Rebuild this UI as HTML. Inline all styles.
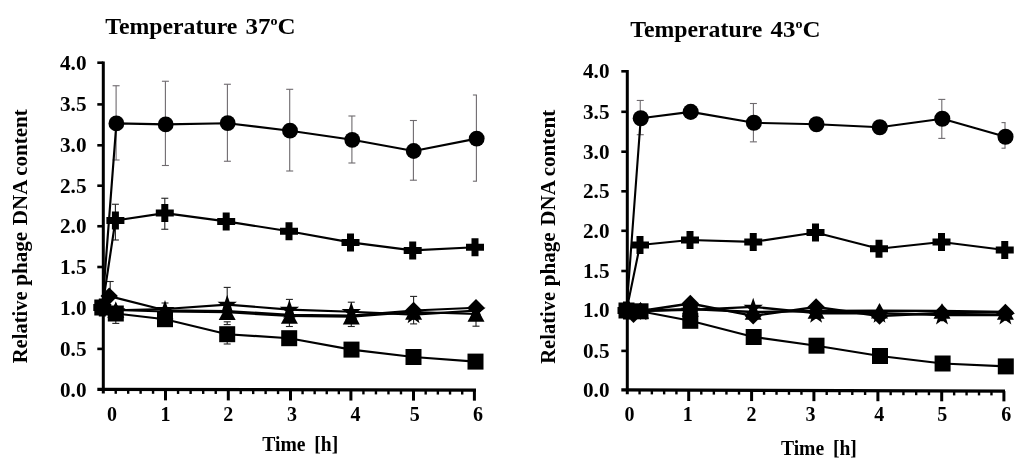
<!DOCTYPE html>
<html><head><meta charset="utf-8"><title>Relative phage DNA content</title>
<style>html,body{margin:0;padding:0;background:#fff}svg{display:block}</style></head>
<body>
<svg width="1024" height="467" viewBox="0 0 1024 467" font-family="'Liberation Serif', 'DejaVu Serif', serif" font-weight="bold" fill="#000">
<rect width="1024" height="467" fill="#fff"/>
<line x1="103.30" y1="61.40" x2="103.30" y2="393.60" stroke="#000" stroke-width="3" stroke-linecap="butt"/>
<line x1="97.30" y1="389.30" x2="476.00" y2="390.20" stroke="#000" stroke-width="3.2" stroke-linecap="butt"/>
<text x="86.50" y="396.70" font-size="20" text-anchor="end" textLength="26.5" lengthAdjust="spacingAndGlyphs" >0.0</text>
<line x1="97.30" y1="348.90" x2="103.30" y2="348.90" stroke="#000" stroke-width="2.6" stroke-linecap="butt"/>
<text x="86.50" y="355.80" font-size="20" text-anchor="end" textLength="26.5" lengthAdjust="spacingAndGlyphs" >0.5</text>
<line x1="97.30" y1="307.60" x2="103.30" y2="307.60" stroke="#000" stroke-width="2.6" stroke-linecap="butt"/>
<text x="86.50" y="314.50" font-size="20" text-anchor="end" textLength="26.5" lengthAdjust="spacingAndGlyphs" >1.0</text>
<line x1="97.30" y1="267.00" x2="103.30" y2="267.00" stroke="#000" stroke-width="2.6" stroke-linecap="butt"/>
<text x="86.50" y="273.90" font-size="20" text-anchor="end" textLength="26.5" lengthAdjust="spacingAndGlyphs" >1.5</text>
<line x1="97.30" y1="226.25" x2="103.30" y2="226.25" stroke="#000" stroke-width="2.6" stroke-linecap="butt"/>
<text x="86.50" y="233.15" font-size="20" text-anchor="end" textLength="26.5" lengthAdjust="spacingAndGlyphs" >2.0</text>
<line x1="97.30" y1="185.70" x2="103.30" y2="185.70" stroke="#000" stroke-width="2.6" stroke-linecap="butt"/>
<text x="86.50" y="192.60" font-size="20" text-anchor="end" textLength="26.5" lengthAdjust="spacingAndGlyphs" >2.5</text>
<line x1="97.30" y1="145.30" x2="103.30" y2="145.30" stroke="#000" stroke-width="2.6" stroke-linecap="butt"/>
<text x="86.50" y="152.20" font-size="20" text-anchor="end" textLength="26.5" lengthAdjust="spacingAndGlyphs" >3.0</text>
<line x1="97.30" y1="104.40" x2="103.30" y2="104.40" stroke="#000" stroke-width="2.6" stroke-linecap="butt"/>
<text x="86.50" y="111.30" font-size="20" text-anchor="end" textLength="26.5" lengthAdjust="spacingAndGlyphs" >3.5</text>
<line x1="97.30" y1="62.70" x2="103.30" y2="62.70" stroke="#000" stroke-width="2.6" stroke-linecap="butt"/>
<text x="86.50" y="69.60" font-size="20" text-anchor="end" textLength="26.5" lengthAdjust="spacingAndGlyphs" >4.0</text>
<line x1="115.74" y1="389.30" x2="115.74" y2="393.80" stroke="#000" stroke-width="2.4" stroke-linecap="butt"/>
<line x1="128.18" y1="389.30" x2="128.18" y2="393.80" stroke="#000" stroke-width="2.4" stroke-linecap="butt"/>
<line x1="140.62" y1="389.30" x2="140.62" y2="393.80" stroke="#000" stroke-width="2.4" stroke-linecap="butt"/>
<line x1="153.06" y1="389.30" x2="153.06" y2="393.80" stroke="#000" stroke-width="2.4" stroke-linecap="butt"/>
<line x1="165.50" y1="389.45" x2="165.50" y2="400.36" stroke="#000" stroke-width="3" stroke-linecap="butt"/>
<line x1="178.06" y1="389.45" x2="178.06" y2="393.95" stroke="#000" stroke-width="2.4" stroke-linecap="butt"/>
<line x1="190.62" y1="389.45" x2="190.62" y2="393.95" stroke="#000" stroke-width="2.4" stroke-linecap="butt"/>
<line x1="203.18" y1="389.45" x2="203.18" y2="393.95" stroke="#000" stroke-width="2.4" stroke-linecap="butt"/>
<line x1="215.74" y1="389.45" x2="215.74" y2="393.95" stroke="#000" stroke-width="2.4" stroke-linecap="butt"/>
<line x1="228.30" y1="389.60" x2="228.30" y2="400.42" stroke="#000" stroke-width="3" stroke-linecap="butt"/>
<line x1="240.74" y1="389.60" x2="240.74" y2="394.10" stroke="#000" stroke-width="2.4" stroke-linecap="butt"/>
<line x1="253.18" y1="389.60" x2="253.18" y2="394.10" stroke="#000" stroke-width="2.4" stroke-linecap="butt"/>
<line x1="265.62" y1="389.60" x2="265.62" y2="394.10" stroke="#000" stroke-width="2.4" stroke-linecap="butt"/>
<line x1="278.06" y1="389.60" x2="278.06" y2="394.10" stroke="#000" stroke-width="2.4" stroke-linecap="butt"/>
<line x1="290.50" y1="389.75" x2="290.50" y2="400.48" stroke="#000" stroke-width="3" stroke-linecap="butt"/>
<line x1="302.58" y1="389.75" x2="302.58" y2="394.25" stroke="#000" stroke-width="2.4" stroke-linecap="butt"/>
<line x1="314.66" y1="389.75" x2="314.66" y2="394.25" stroke="#000" stroke-width="2.4" stroke-linecap="butt"/>
<line x1="326.74" y1="389.75" x2="326.74" y2="394.25" stroke="#000" stroke-width="2.4" stroke-linecap="butt"/>
<line x1="338.82" y1="389.75" x2="338.82" y2="394.25" stroke="#000" stroke-width="2.4" stroke-linecap="butt"/>
<line x1="350.90" y1="389.90" x2="350.90" y2="400.54" stroke="#000" stroke-width="3" stroke-linecap="butt"/>
<line x1="363.42" y1="389.90" x2="363.42" y2="394.40" stroke="#000" stroke-width="2.4" stroke-linecap="butt"/>
<line x1="375.94" y1="389.90" x2="375.94" y2="394.40" stroke="#000" stroke-width="2.4" stroke-linecap="butt"/>
<line x1="388.46" y1="389.90" x2="388.46" y2="394.40" stroke="#000" stroke-width="2.4" stroke-linecap="butt"/>
<line x1="400.98" y1="389.90" x2="400.98" y2="394.40" stroke="#000" stroke-width="2.4" stroke-linecap="butt"/>
<line x1="413.50" y1="390.05" x2="413.50" y2="400.60" stroke="#000" stroke-width="3" stroke-linecap="butt"/>
<line x1="425.68" y1="390.05" x2="425.68" y2="394.55" stroke="#000" stroke-width="2.4" stroke-linecap="butt"/>
<line x1="437.86" y1="390.05" x2="437.86" y2="394.55" stroke="#000" stroke-width="2.4" stroke-linecap="butt"/>
<line x1="450.04" y1="390.05" x2="450.04" y2="394.55" stroke="#000" stroke-width="2.4" stroke-linecap="butt"/>
<line x1="462.22" y1="390.05" x2="462.22" y2="394.55" stroke="#000" stroke-width="2.4" stroke-linecap="butt"/>
<line x1="474.40" y1="390.20" x2="474.40" y2="400.66" stroke="#000" stroke-width="3" stroke-linecap="butt"/>
<text x="112.00" y="421.00" font-size="20" text-anchor="middle" >0</text>
<text x="165.50" y="421.00" font-size="20" text-anchor="middle" >1</text>
<text x="228.30" y="421.00" font-size="20" text-anchor="middle" >2</text>
<text x="292.10" y="421.00" font-size="20" text-anchor="middle" >3</text>
<text x="355.60" y="421.00" font-size="20" text-anchor="middle" >4</text>
<text x="414.70" y="421.00" font-size="20" text-anchor="middle" >5</text>
<text x="478.00" y="421.00" font-size="20" text-anchor="middle" >6</text>
<text transform="translate(27.4,363.20) rotate(-90)" font-size="21" textLength="71.8" lengthAdjust="spacingAndGlyphs">Relative</text>
<text transform="translate(27.4,285.80) rotate(-90)" font-size="21" textLength="54" lengthAdjust="spacingAndGlyphs">phage</text>
<text transform="translate(27.4,225.20) rotate(-90)" font-size="21" textLength="45.5" lengthAdjust="spacingAndGlyphs">DNA</text>
<text transform="translate(27.4,175.80) rotate(-90)" font-size="21" textLength="66.6" lengthAdjust="spacingAndGlyphs">content</text>
<text x="105.30" y="33.80" font-size="24" textLength="132.0" lengthAdjust="spacingAndGlyphs">Temperature</text>
<text x="245.60" y="33.80" font-size="24" textLength="50.0" lengthAdjust="spacingAndGlyphs">37<tspan font-size="13.5" dy="-9.3">o</tspan><tspan dy="9.3">C</tspan></text>
<text x="262.30" y="451.00" font-size="20.5" text-anchor="start" textLength="43.3" lengthAdjust="spacingAndGlyphs" >Time</text>
<text x="314.30" y="451.00" font-size="20.5" text-anchor="start" textLength="23.9" lengthAdjust="spacingAndGlyphs" >[h]</text>
<line x1="116.10" y1="85.75" x2="116.10" y2="160.00" stroke="#6e6a6e" stroke-width="1.1" stroke-linecap="butt"/>
<line x1="112.60" y1="85.75" x2="119.60" y2="85.75" stroke="#6e6a6e" stroke-width="1.1" stroke-linecap="butt"/>
<line x1="112.60" y1="160.00" x2="119.60" y2="160.00" stroke="#6e6a6e" stroke-width="1.1" stroke-linecap="butt"/>
<line x1="165.40" y1="81.25" x2="165.40" y2="165.50" stroke="#6e6a6e" stroke-width="1.1" stroke-linecap="butt"/>
<line x1="161.90" y1="81.25" x2="168.90" y2="81.25" stroke="#6e6a6e" stroke-width="1.1" stroke-linecap="butt"/>
<line x1="161.90" y1="165.50" x2="168.90" y2="165.50" stroke="#6e6a6e" stroke-width="1.1" stroke-linecap="butt"/>
<line x1="227.40" y1="84.25" x2="227.40" y2="161.25" stroke="#6e6a6e" stroke-width="1.1" stroke-linecap="butt"/>
<line x1="223.90" y1="84.25" x2="230.90" y2="84.25" stroke="#6e6a6e" stroke-width="1.1" stroke-linecap="butt"/>
<line x1="223.90" y1="161.25" x2="230.90" y2="161.25" stroke="#6e6a6e" stroke-width="1.1" stroke-linecap="butt"/>
<line x1="289.70" y1="89.30" x2="289.70" y2="171.00" stroke="#6e6a6e" stroke-width="1.1" stroke-linecap="butt"/>
<line x1="286.20" y1="89.30" x2="293.20" y2="89.30" stroke="#6e6a6e" stroke-width="1.1" stroke-linecap="butt"/>
<line x1="286.20" y1="171.00" x2="293.20" y2="171.00" stroke="#6e6a6e" stroke-width="1.1" stroke-linecap="butt"/>
<line x1="351.90" y1="116.00" x2="351.90" y2="163.00" stroke="#6e6a6e" stroke-width="1.1" stroke-linecap="butt"/>
<line x1="348.40" y1="116.00" x2="355.40" y2="116.00" stroke="#6e6a6e" stroke-width="1.1" stroke-linecap="butt"/>
<line x1="348.40" y1="163.00" x2="355.40" y2="163.00" stroke="#6e6a6e" stroke-width="1.1" stroke-linecap="butt"/>
<line x1="413.40" y1="120.50" x2="413.40" y2="180.20" stroke="#6e6a6e" stroke-width="1.1" stroke-linecap="butt"/>
<line x1="409.90" y1="120.50" x2="416.90" y2="120.50" stroke="#6e6a6e" stroke-width="1.1" stroke-linecap="butt"/>
<line x1="409.90" y1="180.20" x2="416.90" y2="180.20" stroke="#6e6a6e" stroke-width="1.1" stroke-linecap="butt"/>
<line x1="476.40" y1="95.00" x2="476.40" y2="181.20" stroke="#6e6a6e" stroke-width="1.1" stroke-linecap="butt"/>
<line x1="472.90" y1="95.00" x2="476.90" y2="95.00" stroke="#6e6a6e" stroke-width="1.1" stroke-linecap="butt"/>
<line x1="472.90" y1="181.20" x2="476.90" y2="181.20" stroke="#6e6a6e" stroke-width="1.1" stroke-linecap="butt"/>
<line x1="115.40" y1="204.25" x2="115.40" y2="240.00" stroke="#222" stroke-width="1.1" stroke-linecap="butt"/>
<line x1="111.90" y1="204.25" x2="118.90" y2="204.25" stroke="#222" stroke-width="1.1" stroke-linecap="butt"/>
<line x1="111.90" y1="240.00" x2="118.90" y2="240.00" stroke="#222" stroke-width="1.1" stroke-linecap="butt"/>
<line x1="164.80" y1="198.25" x2="164.80" y2="229.25" stroke="#222" stroke-width="1.1" stroke-linecap="butt"/>
<line x1="161.30" y1="198.25" x2="168.30" y2="198.25" stroke="#222" stroke-width="1.1" stroke-linecap="butt"/>
<line x1="161.30" y1="229.25" x2="168.30" y2="229.25" stroke="#222" stroke-width="1.1" stroke-linecap="butt"/>
<line x1="110.20" y1="281.50" x2="110.20" y2="295.00" stroke="#222" stroke-width="1.1" stroke-linecap="butt"/>
<line x1="106.70" y1="281.50" x2="113.70" y2="281.50" stroke="#222" stroke-width="1.1" stroke-linecap="butt"/>
<line x1="115.80" y1="312.00" x2="115.80" y2="323.40" stroke="#222" stroke-width="1.1" stroke-linecap="butt"/>
<line x1="112.30" y1="323.40" x2="119.30" y2="323.40" stroke="#222" stroke-width="1.1" stroke-linecap="butt"/>
<line x1="165.00" y1="303.00" x2="165.00" y2="310.00" stroke="#222" stroke-width="1.1" stroke-linecap="butt"/>
<line x1="161.50" y1="303.00" x2="168.50" y2="303.00" stroke="#222" stroke-width="1.1" stroke-linecap="butt"/>
<line x1="227.20" y1="321.80" x2="227.20" y2="324.60" stroke="#222" stroke-width="1.1" stroke-linecap="butt"/>
<line x1="223.70" y1="321.80" x2="230.70" y2="321.80" stroke="#222" stroke-width="1.1" stroke-linecap="butt"/>
<line x1="223.70" y1="324.60" x2="230.70" y2="324.60" stroke="#222" stroke-width="1.1" stroke-linecap="butt"/>
<line x1="227.20" y1="287.40" x2="227.20" y2="305.00" stroke="#222" stroke-width="1.1" stroke-linecap="butt"/>
<line x1="223.70" y1="287.40" x2="230.70" y2="287.40" stroke="#222" stroke-width="1.1" stroke-linecap="butt"/>
<line x1="227.20" y1="334.00" x2="227.20" y2="344.00" stroke="#222" stroke-width="1.1" stroke-linecap="butt"/>
<line x1="223.70" y1="344.00" x2="230.70" y2="344.00" stroke="#222" stroke-width="1.1" stroke-linecap="butt"/>
<line x1="289.40" y1="299.40" x2="289.40" y2="310.00" stroke="#222" stroke-width="1.1" stroke-linecap="butt"/>
<line x1="285.90" y1="299.40" x2="292.90" y2="299.40" stroke="#222" stroke-width="1.1" stroke-linecap="butt"/>
<line x1="289.40" y1="316.00" x2="289.40" y2="326.50" stroke="#222" stroke-width="1.1" stroke-linecap="butt"/>
<line x1="285.90" y1="326.50" x2="292.90" y2="326.50" stroke="#222" stroke-width="1.1" stroke-linecap="butt"/>
<line x1="351.30" y1="302.20" x2="351.30" y2="312.00" stroke="#222" stroke-width="1.1" stroke-linecap="butt"/>
<line x1="347.80" y1="302.20" x2="354.80" y2="302.20" stroke="#222" stroke-width="1.1" stroke-linecap="butt"/>
<line x1="351.30" y1="316.00" x2="351.30" y2="326.50" stroke="#222" stroke-width="1.1" stroke-linecap="butt"/>
<line x1="347.80" y1="326.50" x2="354.80" y2="326.50" stroke="#222" stroke-width="1.1" stroke-linecap="butt"/>
<line x1="413.60" y1="296.40" x2="413.60" y2="310.00" stroke="#222" stroke-width="1.1" stroke-linecap="butt"/>
<line x1="410.10" y1="296.40" x2="417.10" y2="296.40" stroke="#222" stroke-width="1.1" stroke-linecap="butt"/>
<line x1="413.60" y1="315.00" x2="413.60" y2="323.90" stroke="#222" stroke-width="1.1" stroke-linecap="butt"/>
<line x1="410.10" y1="323.90" x2="417.10" y2="323.90" stroke="#222" stroke-width="1.1" stroke-linecap="butt"/>
<line x1="476.00" y1="314.00" x2="476.00" y2="326.20" stroke="#222" stroke-width="1.1" stroke-linecap="butt"/>
<line x1="472.50" y1="326.20" x2="479.50" y2="326.20" stroke="#222" stroke-width="1.1" stroke-linecap="butt"/>
<polyline points="102.30,307.50 115.80,310.30 165.00,309.00 227.20,304.60 289.40,309.60 351.30,311.80 413.60,314.60 476.00,310.60" fill="none" stroke="#000" stroke-width="2.15" stroke-linejoin="round"/>
<polyline points="102.30,307.50 109.20,296.10 165.00,310.30 227.20,311.10 289.40,314.70 351.30,315.60 413.60,310.50 476.00,307.80" fill="none" stroke="#000" stroke-width="2.15" stroke-linejoin="round"/>
<polyline points="102.30,307.50 115.80,310.00 165.00,311.50 227.20,312.20 289.40,316.00 351.30,316.80 413.60,312.00 476.00,314.00" fill="none" stroke="#000" stroke-width="2.15" stroke-linejoin="round"/>
<polyline points="102.30,307.50 115.80,313.50 165.00,319.20 227.20,334.20 289.20,338.20 351.50,349.60 413.50,357.00 475.50,361.60" fill="none" stroke="#000" stroke-width="2.15" stroke-linejoin="round"/>
<polyline points="102.30,307.50 115.40,220.50 164.80,213.10 226.20,221.40 289.00,231.20 350.50,242.40 412.70,250.40 475.00,247.30" fill="none" stroke="#000" stroke-width="2.15" stroke-linejoin="round"/>
<polyline points="102.30,307.50 116.40,123.40 165.70,124.40 227.70,123.20 290.00,130.70 352.20,139.80 413.70,151.00 476.70,138.60" fill="none" stroke="#000" stroke-width="2.15" stroke-linejoin="round"/>
<polygon points="109.20,287.40 117.90,296.10 109.20,304.80 100.50,296.10" fill="#000"/>
<polygon points="413.60,301.80 422.30,310.50 413.60,319.20 404.90,310.50" fill="#000"/>
<polygon points="476.00,299.10 484.70,307.80 476.00,316.50 467.30,307.80" fill="#000"/>
<polygon points="115.80,302.20 124.30,317.80 107.30,317.80" fill="#000"/>
<polygon points="165.00,303.70 173.50,319.30 156.50,319.30" fill="#000"/>
<polygon points="227.20,304.40 235.70,320.00 218.70,320.00" fill="#000"/>
<polygon points="289.40,308.20 297.90,323.80 280.90,323.80" fill="#000"/>
<polygon points="351.30,309.00 359.80,324.60 342.80,324.60" fill="#000"/>
<polygon points="413.60,304.20 422.10,319.80 405.10,319.80" fill="#000"/>
<polygon points="476.00,306.20 484.50,321.80 467.50,321.80" fill="#000"/>
<polygon points="115.80,301.30 118.20,308.20 125.50,308.35 119.68,312.76 121.80,319.75 115.80,315.58 109.80,319.75 111.92,312.76 106.10,308.35 113.40,308.20" fill="#000"/>
<polygon points="165.00,300.00 167.40,306.90 174.70,307.05 168.88,311.46 171.00,318.45 165.00,314.28 159.00,318.45 161.12,311.46 155.30,307.05 162.60,306.90" fill="#000"/>
<polygon points="227.20,294.80 229.60,301.70 236.90,301.85 231.08,306.26 233.20,313.25 227.20,309.08 221.20,313.25 223.32,306.26 217.50,301.85 224.80,301.70" fill="#000"/>
<polygon points="289.40,299.80 291.80,306.70 299.10,306.85 293.28,311.26 295.40,318.25 289.40,314.08 283.40,318.25 285.52,311.26 279.70,306.85 287.00,306.70" fill="#000"/>
<polygon points="351.30,302.00 353.70,308.90 361.00,309.05 355.18,313.46 357.30,320.45 351.30,316.28 345.30,320.45 347.42,313.46 341.60,309.05 348.90,308.90" fill="#000"/>
<polygon points="413.60,304.80 416.00,311.70 423.30,311.85 417.48,316.26 419.60,323.25 413.60,319.08 407.60,323.25 409.72,316.26 403.90,311.85 411.20,311.70" fill="#000"/>
<polygon points="476.00,300.80 478.40,307.70 485.70,307.85 479.88,312.26 482.00,319.25 476.00,315.08 470.00,319.25 472.12,312.26 466.30,307.85 473.60,307.70" fill="#000"/>
<rect x="94.30" y="299.50" width="16" height="16" fill="#000"/>
<rect x="107.80" y="305.50" width="16" height="16" fill="#000"/>
<rect x="157.00" y="311.20" width="16" height="16" fill="#000"/>
<rect x="219.20" y="326.20" width="16" height="16" fill="#000"/>
<rect x="281.20" y="330.20" width="16" height="16" fill="#000"/>
<rect x="343.50" y="341.60" width="16" height="16" fill="#000"/>
<rect x="405.50" y="349.00" width="16" height="16" fill="#000"/>
<rect x="467.50" y="353.60" width="16" height="16" fill="#000"/>
<path d="M98.80 298.50h7v5.5h5.5v7h-5.5v5.5h-7v-5.5h-5.5v-7h5.5z" fill="#000"/>
<path d="M111.90 211.50h7v5.5h5.5v7h-5.5v5.5h-7v-5.5h-5.5v-7h5.5z" fill="#000"/>
<path d="M161.30 204.10h7v5.5h5.5v7h-5.5v5.5h-7v-5.5h-5.5v-7h5.5z" fill="#000"/>
<path d="M222.70 212.40h7v5.5h5.5v7h-5.5v5.5h-7v-5.5h-5.5v-7h5.5z" fill="#000"/>
<path d="M285.50 222.20h7v5.5h5.5v7h-5.5v5.5h-7v-5.5h-5.5v-7h5.5z" fill="#000"/>
<path d="M347.00 233.40h7v5.5h5.5v7h-5.5v5.5h-7v-5.5h-5.5v-7h5.5z" fill="#000"/>
<path d="M409.20 241.40h7v5.5h5.5v7h-5.5v5.5h-7v-5.5h-5.5v-7h5.5z" fill="#000"/>
<path d="M471.50 238.30h7v5.5h5.5v7h-5.5v5.5h-7v-5.5h-5.5v-7h5.5z" fill="#000"/>
<circle cx="102.30" cy="307.50" r="7.9" fill="#000"/>
<circle cx="116.40" cy="123.40" r="7.9" fill="#000"/>
<circle cx="165.70" cy="124.40" r="7.9" fill="#000"/>
<circle cx="227.70" cy="123.20" r="7.9" fill="#000"/>
<circle cx="290.00" cy="130.70" r="7.9" fill="#000"/>
<circle cx="352.20" cy="139.80" r="7.9" fill="#000"/>
<circle cx="413.70" cy="151.00" r="7.9" fill="#000"/>
<circle cx="476.70" cy="138.60" r="7.9" fill="#000"/>
<line x1="627.30" y1="70.00" x2="627.30" y2="394.20" stroke="#000" stroke-width="3" stroke-linecap="butt"/>
<line x1="621.30" y1="389.90" x2="1005.00" y2="391.10" stroke="#000" stroke-width="3.2" stroke-linecap="butt"/>
<text x="609.50" y="397.30" font-size="20" text-anchor="end" textLength="26.5" lengthAdjust="spacingAndGlyphs" >0.0</text>
<line x1="621.30" y1="350.90" x2="627.30" y2="350.90" stroke="#000" stroke-width="2.6" stroke-linecap="butt"/>
<text x="609.50" y="357.80" font-size="20" text-anchor="end" textLength="26.5" lengthAdjust="spacingAndGlyphs" >0.5</text>
<line x1="621.30" y1="310.20" x2="627.30" y2="310.20" stroke="#000" stroke-width="2.6" stroke-linecap="butt"/>
<text x="609.50" y="317.10" font-size="20" text-anchor="end" textLength="26.5" lengthAdjust="spacingAndGlyphs" >1.0</text>
<line x1="621.30" y1="271.00" x2="627.30" y2="271.00" stroke="#000" stroke-width="2.6" stroke-linecap="butt"/>
<text x="609.50" y="277.90" font-size="20" text-anchor="end" textLength="26.5" lengthAdjust="spacingAndGlyphs" >1.5</text>
<line x1="621.30" y1="230.80" x2="627.30" y2="230.80" stroke="#000" stroke-width="2.6" stroke-linecap="butt"/>
<text x="609.50" y="237.70" font-size="20" text-anchor="end" textLength="26.5" lengthAdjust="spacingAndGlyphs" >2.0</text>
<line x1="621.30" y1="191.30" x2="627.30" y2="191.30" stroke="#000" stroke-width="2.6" stroke-linecap="butt"/>
<text x="609.50" y="198.20" font-size="20" text-anchor="end" textLength="26.5" lengthAdjust="spacingAndGlyphs" >2.5</text>
<line x1="621.30" y1="151.70" x2="627.30" y2="151.70" stroke="#000" stroke-width="2.6" stroke-linecap="butt"/>
<text x="609.50" y="158.60" font-size="20" text-anchor="end" textLength="26.5" lengthAdjust="spacingAndGlyphs" >3.0</text>
<line x1="621.30" y1="111.80" x2="627.30" y2="111.80" stroke="#000" stroke-width="2.6" stroke-linecap="butt"/>
<text x="609.50" y="118.70" font-size="20" text-anchor="end" textLength="26.5" lengthAdjust="spacingAndGlyphs" >3.5</text>
<line x1="621.30" y1="71.30" x2="627.30" y2="71.30" stroke="#000" stroke-width="2.6" stroke-linecap="butt"/>
<text x="609.50" y="78.20" font-size="20" text-anchor="end" textLength="26.5" lengthAdjust="spacingAndGlyphs" >4.0</text>
<line x1="639.58" y1="389.90" x2="639.58" y2="394.40" stroke="#000" stroke-width="2.4" stroke-linecap="butt"/>
<line x1="651.86" y1="389.90" x2="651.86" y2="394.40" stroke="#000" stroke-width="2.4" stroke-linecap="butt"/>
<line x1="664.14" y1="389.90" x2="664.14" y2="394.40" stroke="#000" stroke-width="2.4" stroke-linecap="butt"/>
<line x1="676.42" y1="389.90" x2="676.42" y2="394.40" stroke="#000" stroke-width="2.4" stroke-linecap="butt"/>
<line x1="688.70" y1="390.10" x2="688.70" y2="400.98" stroke="#000" stroke-width="3" stroke-linecap="butt"/>
<line x1="701.28" y1="390.10" x2="701.28" y2="394.60" stroke="#000" stroke-width="2.4" stroke-linecap="butt"/>
<line x1="713.86" y1="390.10" x2="713.86" y2="394.60" stroke="#000" stroke-width="2.4" stroke-linecap="butt"/>
<line x1="726.44" y1="390.10" x2="726.44" y2="394.60" stroke="#000" stroke-width="2.4" stroke-linecap="butt"/>
<line x1="739.02" y1="390.10" x2="739.02" y2="394.60" stroke="#000" stroke-width="2.4" stroke-linecap="butt"/>
<line x1="751.60" y1="390.29" x2="751.60" y2="401.06" stroke="#000" stroke-width="3" stroke-linecap="butt"/>
<line x1="764.06" y1="390.29" x2="764.06" y2="394.79" stroke="#000" stroke-width="2.4" stroke-linecap="butt"/>
<line x1="776.52" y1="390.29" x2="776.52" y2="394.79" stroke="#000" stroke-width="2.4" stroke-linecap="butt"/>
<line x1="788.98" y1="390.29" x2="788.98" y2="394.79" stroke="#000" stroke-width="2.4" stroke-linecap="butt"/>
<line x1="801.44" y1="390.29" x2="801.44" y2="394.79" stroke="#000" stroke-width="2.4" stroke-linecap="butt"/>
<line x1="813.90" y1="390.49" x2="813.90" y2="401.14" stroke="#000" stroke-width="3" stroke-linecap="butt"/>
<line x1="826.70" y1="390.49" x2="826.70" y2="394.99" stroke="#000" stroke-width="2.4" stroke-linecap="butt"/>
<line x1="839.50" y1="390.49" x2="839.50" y2="394.99" stroke="#000" stroke-width="2.4" stroke-linecap="butt"/>
<line x1="852.30" y1="390.49" x2="852.30" y2="394.99" stroke="#000" stroke-width="2.4" stroke-linecap="butt"/>
<line x1="865.10" y1="390.49" x2="865.10" y2="394.99" stroke="#000" stroke-width="2.4" stroke-linecap="butt"/>
<line x1="877.90" y1="390.70" x2="877.90" y2="401.22" stroke="#000" stroke-width="3" stroke-linecap="butt"/>
<line x1="890.66" y1="390.70" x2="890.66" y2="395.20" stroke="#000" stroke-width="2.4" stroke-linecap="butt"/>
<line x1="903.42" y1="390.70" x2="903.42" y2="395.20" stroke="#000" stroke-width="2.4" stroke-linecap="butt"/>
<line x1="916.18" y1="390.70" x2="916.18" y2="395.20" stroke="#000" stroke-width="2.4" stroke-linecap="butt"/>
<line x1="928.94" y1="390.70" x2="928.94" y2="395.20" stroke="#000" stroke-width="2.4" stroke-linecap="butt"/>
<line x1="941.70" y1="390.90" x2="941.70" y2="401.30" stroke="#000" stroke-width="3" stroke-linecap="butt"/>
<line x1="954.14" y1="390.90" x2="954.14" y2="395.40" stroke="#000" stroke-width="2.4" stroke-linecap="butt"/>
<line x1="966.58" y1="390.90" x2="966.58" y2="395.40" stroke="#000" stroke-width="2.4" stroke-linecap="butt"/>
<line x1="979.02" y1="390.90" x2="979.02" y2="395.40" stroke="#000" stroke-width="2.4" stroke-linecap="butt"/>
<line x1="991.46" y1="390.90" x2="991.46" y2="395.40" stroke="#000" stroke-width="2.4" stroke-linecap="butt"/>
<line x1="1003.90" y1="391.10" x2="1003.90" y2="401.38" stroke="#000" stroke-width="3" stroke-linecap="butt"/>
<text x="629.50" y="420.80" font-size="20" text-anchor="middle" >0</text>
<text x="687.75" y="420.80" font-size="20" text-anchor="middle" >1</text>
<text x="751.50" y="420.80" font-size="20" text-anchor="middle" >2</text>
<text x="810.50" y="420.80" font-size="20" text-anchor="middle" >3</text>
<text x="879.25" y="420.80" font-size="20" text-anchor="middle" >4</text>
<text x="942.25" y="420.80" font-size="20" text-anchor="middle" >5</text>
<text x="1006.25" y="420.80" font-size="20" text-anchor="middle" >6</text>
<text transform="translate(554.5,363.70) rotate(-90)" font-size="21" textLength="71.8" lengthAdjust="spacingAndGlyphs">Relative</text>
<text transform="translate(554.5,286.30) rotate(-90)" font-size="21" textLength="54" lengthAdjust="spacingAndGlyphs">phage</text>
<text transform="translate(554.5,225.70) rotate(-90)" font-size="21" textLength="45.5" lengthAdjust="spacingAndGlyphs">DNA</text>
<text transform="translate(554.5,176.30) rotate(-90)" font-size="21" textLength="66.6" lengthAdjust="spacingAndGlyphs">content</text>
<text x="630.30" y="36.80" font-size="24" textLength="132.0" lengthAdjust="spacingAndGlyphs">Temperature</text>
<text x="770.60" y="36.80" font-size="24" textLength="50.0" lengthAdjust="spacingAndGlyphs">43<tspan font-size="13.5" dy="-9.3">o</tspan><tspan dy="9.3">C</tspan></text>
<text x="780.90" y="454.80" font-size="20.5" text-anchor="start" textLength="43.3" lengthAdjust="spacingAndGlyphs" >Time</text>
<text x="832.90" y="454.80" font-size="20.5" text-anchor="start" textLength="23.9" lengthAdjust="spacingAndGlyphs" >[h]</text>
<line x1="640.25" y1="100.45" x2="640.25" y2="134.70" stroke="#6e6a6e" stroke-width="1.1" stroke-linecap="butt"/>
<line x1="636.75" y1="100.45" x2="643.75" y2="100.45" stroke="#6e6a6e" stroke-width="1.1" stroke-linecap="butt"/>
<line x1="636.75" y1="134.70" x2="643.75" y2="134.70" stroke="#6e6a6e" stroke-width="1.1" stroke-linecap="butt"/>
<line x1="753.40" y1="103.50" x2="753.40" y2="141.85" stroke="#6e6a6e" stroke-width="1.1" stroke-linecap="butt"/>
<line x1="749.90" y1="103.50" x2="756.90" y2="103.50" stroke="#6e6a6e" stroke-width="1.1" stroke-linecap="butt"/>
<line x1="749.90" y1="141.85" x2="756.90" y2="141.85" stroke="#6e6a6e" stroke-width="1.1" stroke-linecap="butt"/>
<line x1="941.80" y1="99.40" x2="941.80" y2="138.40" stroke="#6e6a6e" stroke-width="1.1" stroke-linecap="butt"/>
<line x1="938.30" y1="99.40" x2="945.30" y2="99.40" stroke="#6e6a6e" stroke-width="1.1" stroke-linecap="butt"/>
<line x1="938.30" y1="138.40" x2="945.30" y2="138.40" stroke="#6e6a6e" stroke-width="1.1" stroke-linecap="butt"/>
<line x1="1005.00" y1="122.60" x2="1005.00" y2="148.20" stroke="#6e6a6e" stroke-width="1.1" stroke-linecap="butt"/>
<line x1="1001.50" y1="122.60" x2="1005.50" y2="122.60" stroke="#6e6a6e" stroke-width="1.1" stroke-linecap="butt"/>
<line x1="1001.50" y1="148.20" x2="1005.50" y2="148.20" stroke="#6e6a6e" stroke-width="1.1" stroke-linecap="butt"/>
<polyline points="626.50,310.50 640.50,310.80 690.30,309.80 753.20,306.80 816.10,313.20 879.50,313.20 942.00,315.00 1005.40,315.00" fill="none" stroke="#000" stroke-width="2.35" stroke-linejoin="round"/>
<polyline points="626.50,310.50 640.50,311.00 690.30,303.50 753.20,315.80 816.10,307.00 879.50,316.00 942.00,313.00 1005.40,312.40" fill="none" stroke="#000" stroke-width="2.35" stroke-linejoin="round"/>
<polyline points="626.50,310.50 640.50,311.00 690.30,309.00 753.20,312.00 816.10,311.00 879.50,310.70 942.00,311.00 1005.40,312.00" fill="none" stroke="#000" stroke-width="2.35" stroke-linejoin="round"/>
<polyline points="626.50,310.50 640.50,311.30 690.30,320.80 753.70,337.00 816.50,345.70 880.00,356.00 942.60,363.50 1005.80,366.40" fill="none" stroke="#000" stroke-width="2.1" stroke-linejoin="round"/>
<polyline points="626.50,310.50 640.00,245.00 690.00,240.00 753.25,241.90 815.50,232.50 879.00,248.75 941.50,242.00 1004.75,250.00" fill="none" stroke="#000" stroke-width="2.1" stroke-linejoin="round"/>
<polyline points="626.50,310.50 640.75,118.30 690.70,111.90 753.90,122.80 816.50,124.30 879.80,127.20 942.30,118.80 1005.50,136.70" fill="none" stroke="#000" stroke-width="2.1" stroke-linejoin="round"/>
<polygon points="640.50,302.30 649.20,311.00 640.50,319.70 631.80,311.00" fill="#000"/>
<polygon points="690.30,294.80 699.00,303.50 690.30,312.20 681.60,303.50" fill="#000"/>
<polygon points="753.20,307.10 761.90,315.80 753.20,324.50 744.50,315.80" fill="#000"/>
<polygon points="816.10,298.30 824.80,307.00 816.10,315.70 807.40,307.00" fill="#000"/>
<polygon points="879.50,307.30 888.20,316.00 879.50,324.70 870.80,316.00" fill="#000"/>
<polygon points="942.00,304.30 950.70,313.00 942.00,321.70 933.30,313.00" fill="#000"/>
<polygon points="1005.40,303.70 1014.10,312.40 1005.40,321.10 996.70,312.40" fill="#000"/>
<polygon points="633.50,305.60 642.20,314.30 633.50,323.00 624.80,314.30" fill="#000"/>
<rect x="682.8" y="303" width="15" height="11" fill="#000"/>
<polygon points="640.50,303.20 649.00,318.80 632.00,318.80" fill="#000"/>
<polygon points="690.30,301.20 698.80,316.80 681.80,316.80" fill="#000"/>
<polygon points="753.20,304.20 761.70,319.80 744.70,319.80" fill="#000"/>
<polygon points="816.10,303.20 824.60,318.80 807.60,318.80" fill="#000"/>
<polygon points="879.50,302.90 888.00,318.50 871.00,318.50" fill="#000"/>
<polygon points="942.00,303.20 950.50,318.80 933.50,318.80" fill="#000"/>
<polygon points="1005.40,304.20 1013.90,319.80 996.90,319.80" fill="#000"/>
<polygon points="640.50,301.80 642.90,308.70 650.20,308.85 644.38,313.26 646.50,320.25 640.50,316.08 634.50,320.25 636.62,313.26 630.80,308.85 638.10,308.70" fill="#000"/>
<polygon points="690.30,300.80 692.70,307.70 700.00,307.85 694.18,312.26 696.30,319.25 690.30,315.08 684.30,319.25 686.42,312.26 680.60,307.85 687.90,307.70" fill="#000"/>
<polygon points="753.20,297.80 755.60,304.70 762.90,304.85 757.08,309.26 759.20,316.25 753.20,312.08 747.20,316.25 749.32,309.26 743.50,304.85 750.80,304.70" fill="#000"/>
<polygon points="816.10,304.20 818.50,311.10 825.80,311.25 819.98,315.66 822.10,322.65 816.10,318.48 810.10,322.65 812.22,315.66 806.40,311.25 813.70,311.10" fill="#000"/>
<polygon points="879.50,304.20 881.90,311.10 889.20,311.25 883.38,315.66 885.50,322.65 879.50,318.48 873.50,322.65 875.62,315.66 869.80,311.25 877.10,311.10" fill="#000"/>
<polygon points="942.00,306.00 944.40,312.90 951.70,313.05 945.88,317.46 948.00,324.45 942.00,320.28 936.00,324.45 938.12,317.46 932.30,313.05 939.60,312.90" fill="#000"/>
<polygon points="1005.40,306.00 1007.80,312.90 1015.10,313.05 1009.28,317.46 1011.40,324.45 1005.40,320.28 999.40,324.45 1001.52,317.46 995.70,313.05 1003.00,312.90" fill="#000"/>
<rect x="618.50" y="302.50" width="16" height="16" fill="#000"/>
<rect x="632.50" y="303.30" width="16" height="16" fill="#000"/>
<rect x="682.30" y="312.80" width="16" height="16" fill="#000"/>
<rect x="745.70" y="329.00" width="16" height="16" fill="#000"/>
<rect x="808.50" y="337.70" width="16" height="16" fill="#000"/>
<rect x="872.00" y="348.00" width="16" height="16" fill="#000"/>
<rect x="934.60" y="355.50" width="16" height="16" fill="#000"/>
<rect x="997.80" y="358.40" width="16" height="16" fill="#000"/>
<path d="M623.00 301.50h7v5.5h5.5v7h-5.5v5.5h-7v-5.5h-5.5v-7h5.5z" fill="#000"/>
<path d="M636.50 236.00h7v5.5h5.5v7h-5.5v5.5h-7v-5.5h-5.5v-7h5.5z" fill="#000"/>
<path d="M686.50 231.00h7v5.5h5.5v7h-5.5v5.5h-7v-5.5h-5.5v-7h5.5z" fill="#000"/>
<path d="M749.75 232.90h7v5.5h5.5v7h-5.5v5.5h-7v-5.5h-5.5v-7h5.5z" fill="#000"/>
<path d="M812.00 223.50h7v5.5h5.5v7h-5.5v5.5h-7v-5.5h-5.5v-7h5.5z" fill="#000"/>
<path d="M875.50 239.75h7v5.5h5.5v7h-5.5v5.5h-7v-5.5h-5.5v-7h5.5z" fill="#000"/>
<path d="M938.00 233.00h7v5.5h5.5v7h-5.5v5.5h-7v-5.5h-5.5v-7h5.5z" fill="#000"/>
<path d="M1001.25 241.00h7v5.5h5.5v7h-5.5v5.5h-7v-5.5h-5.5v-7h5.5z" fill="#000"/>
<circle cx="626.50" cy="310.50" r="8.05" fill="#000"/>
<circle cx="640.75" cy="118.30" r="8.05" fill="#000"/>
<circle cx="690.70" cy="111.90" r="8.05" fill="#000"/>
<circle cx="753.90" cy="122.80" r="8.05" fill="#000"/>
<circle cx="816.50" cy="124.30" r="8.05" fill="#000"/>
<circle cx="879.80" cy="127.20" r="8.05" fill="#000"/>
<circle cx="942.30" cy="118.80" r="8.05" fill="#000"/>
<circle cx="1005.50" cy="136.70" r="8.05" fill="#000"/>
</svg>
</body></html>
